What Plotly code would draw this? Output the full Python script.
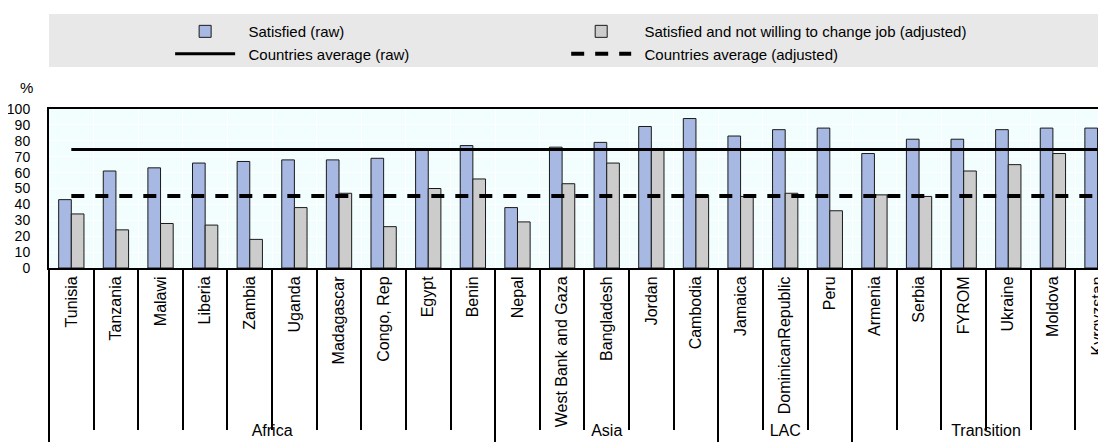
import plotly.graph_objects as go

regions = ["Africa", "Asia", "LAC", "Transition"]
region_sizes = [10, 5, 3, 6]
countries = ["Tunisia", "Tanzania", "Malawi", "Liberia", "Zambia", "Uganda",
             "Madagascar", "Congo, Rep", "Egypt", "Benin",
             "Nepal", "West Bank and Gaza", "Bangladesh", "Jordan", "Cambodia",
             "Jamaica", "DominicanRepublic", "Peru",
             "Armenia", "Serbia", "FYROM", "Ukraine", "Moldova", "Kyrgyzstan"]
satisfied_raw = [43, 61, 63, 66, 67, 68, 68, 69, 74, 77,
                 38, 76, 79, 89, 94,
                 83, 87, 88,
                 72, 81, 81, 87, 88, 88]
satisfied_adj = [34, 24, 28, 27, 18, 38, 47, 26, 50, 56,
                 29, 53, 66, 74, 46,
                 45, 47, 36,
                 46, 45, 61, 65, 72, 51]
avg_raw = 74.6
avg_adj = 45.3

FONT = "Liberation Sans, Arial, sans-serif"

# region boundaries / centres in category index units
bounds = [-0.5]
for n in region_sizes:
    bounds.append(bounds[-1] + n)
centres = [(a + b) / 2 for a, b in zip(bounds[:-1], bounds[1:])]

fig = go.Figure()

# raw series go in the left legend column, adjusted ones in the right
fig.add_trace(go.Bar(
    x=countries, y=satisfied_raw,
    name="\u00a0\u00a0Satisfied (raw)",
    marker=dict(color="#A7B8E2", line=dict(color="#1a1a1a", width=1)),
    legend="legend",
))
fig.add_trace(go.Bar(
    x=countries, y=satisfied_adj,
    name="\u00a0\u00a0Satisfied and not willing to change job (adjusted)",
    marker=dict(color="#CCCCCC", line=dict(color="#1a1a1a", width=1)),
    legend="legend2",
))
fig.add_trace(go.Scatter(
    x=[countries[0], countries[-1]], y=[avg_raw, avg_raw],
    mode="lines",
    name="\u00a0\u00a0Countries average (raw)",
    line=dict(color="black", width=3),
    legend="legend",
))
fig.add_trace(go.Scatter(
    x=[countries[0], countries[-1]], y=[avg_adj, avg_adj],
    mode="lines",
    name="\u00a0\u00a0Countries average (adjusted)",
    line=dict(color="black", width=4, dash="13px,11px"),
    legend="legend2",
))

# grey band behind the legend
fig.add_shape(
    type="rect", xref="paper", yref="paper",
    x0=0, x1=1, y0=1.1261, y1=1.2853,
    fillcolor="#E8E8E8", line=dict(width=0), layer="below",
)

fig.add_annotation(
    text="%", xref="paper", yref="paper",
    x=-0.021, y=1.066, xanchor="center", yanchor="middle",
    showarrow=False, font=dict(size=15, color="black"),
)

legend_style = dict(
    orientation="v",
    yanchor="top", xanchor="left",
    itemwidth=60,
    bgcolor="rgba(0,0,0,0)",
    font=dict(size=15, color="black"),
    traceorder="normal",
)

fig.update_layout(
    width=1098, height=434,
    margin=dict(l=41, r=0, t=101, b=0, autoexpand=False),
    barmode="group", bargap=0.433, bargroupgap=0,
    plot_bgcolor="#F2FEFE",
    paper_bgcolor="white",
    font=dict(family=FONT, color="black"),
    xaxis=dict(
        type="category",
        range=[-0.5, 23.19],
        automargin=False,
        showline=True, linecolor="black", linewidth=2, mirror=True,
        showgrid=True, gridcolor="white", gridwidth=1,
        tickson="boundaries",
        ticks="outside", ticklen=160, tickcolor="black", tickwidth=2,
        tickangle=-90,
        ticklabeloverflow="allow",
        tickfont=dict(size=16, color="black"),
    ),
    xaxis2=dict(
        overlaying="x", anchor="free", position=0, side="bottom",
        range=[-0.5, 23.19],
        automargin=False,
        showline=False, showgrid=False, zeroline=False,
        tickmode="array", tickvals=centres, ticktext=regions,
        ticks="", ticklabelposition="inside",
        tickfont=dict(size=16, color="black"),
        minor=dict(tickmode="array", tickvals=bounds, ticks="inside",
                   ticklen=174, tickcolor="black", tickwidth=2, showgrid=False),
    ),
    yaxis=dict(
        domain=[0.5225, 1],
        range=[0, 100], dtick=10,
        automargin=False,
        showline=True, linecolor="black", linewidth=2,
        showgrid=True, gridcolor="white", gridwidth=1,
        ticks="", ticklabelstandoff=14,
        tickfont=dict(size=14, color="black"),
        zeroline=False,
    ),
    legend=dict(legend_style, x=0.1146, y=1.282),
    legend2=dict(legend_style, x=0.4893, y=1.282),
)

# invisible helper trace so the region axis is drawn
fig.add_trace(go.Scatter(
    x=[centres[0]], y=[None], xaxis="x2", yaxis="y",
    mode="markers", showlegend=False, hoverinfo="skip",
))

fig.write_html("out.html")
